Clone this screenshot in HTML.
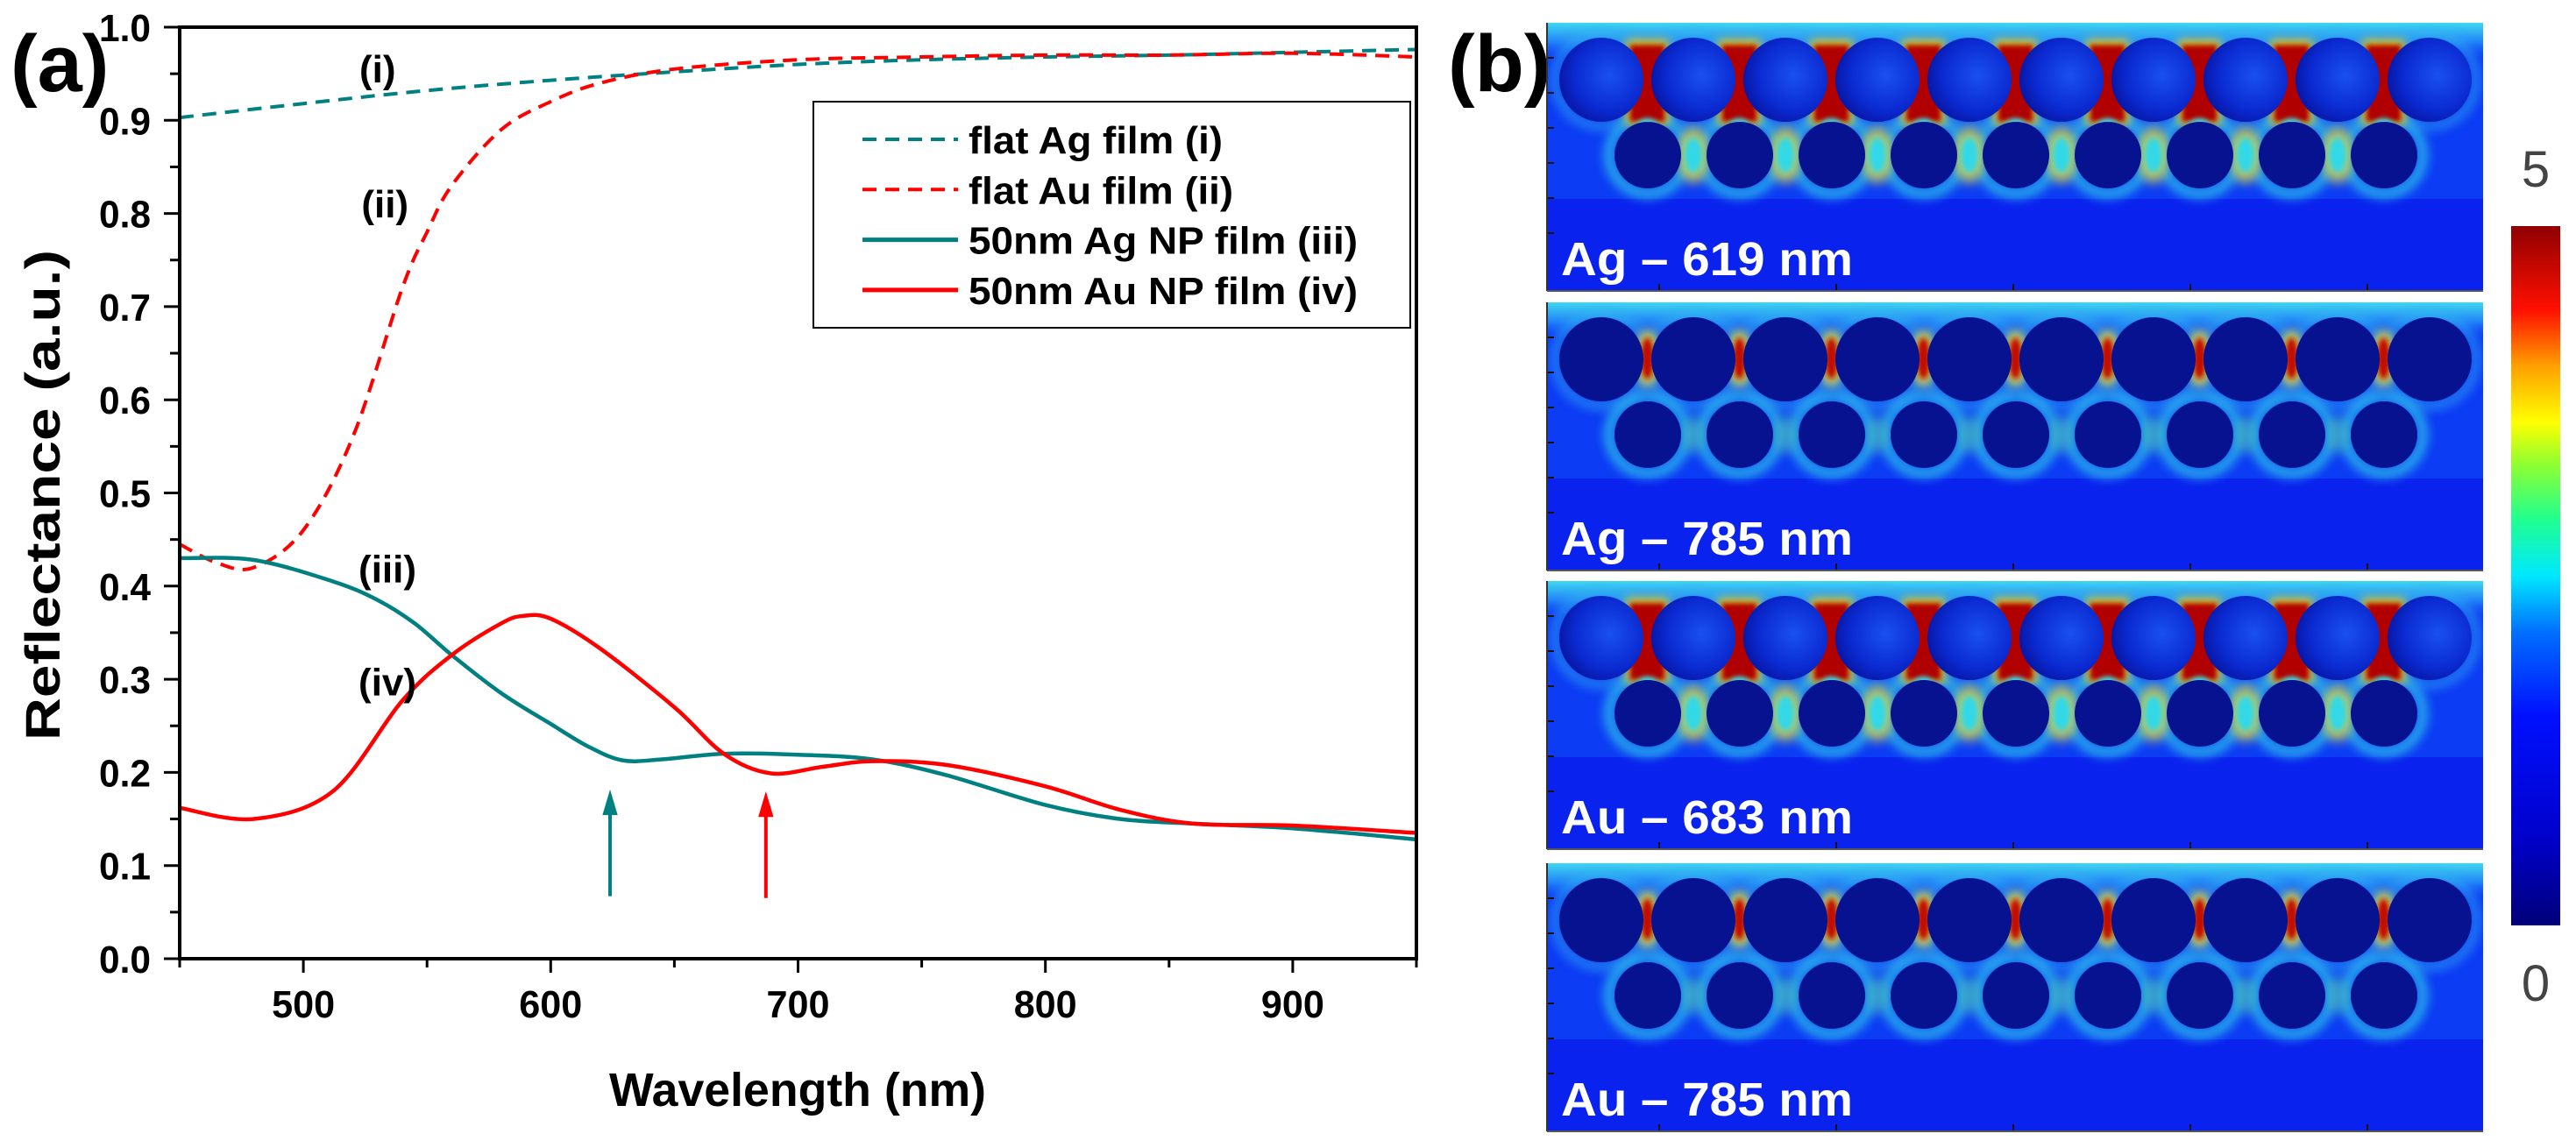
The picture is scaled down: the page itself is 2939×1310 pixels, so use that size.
<!DOCTYPE html>
<html><head><meta charset="utf-8"><style>
html,body{margin:0;padding:0;background:#fff;}
svg{display:block;}
text{font-family:"Liberation Sans Narrow","Liberation Sans",sans-serif;font-weight:bold;}
</style></head><body>
<svg id="fig" width="2939" height="1310" viewBox="0 0 2939 1310" xmlns="http://www.w3.org/2000/svg">
<defs>
  <filter id="b3" x="-50%" y="-50%" width="200%" height="200%"><feGaussianBlur stdDeviation="3"/></filter>
  <filter id="b6" x="-50%" y="-50%" width="200%" height="200%"><feGaussianBlur stdDeviation="6"/></filter>
  <filter id="b10" x="-50%" y="-50%" width="200%" height="200%"><feGaussianBlur stdDeviation="10"/></filter>
  <linearGradient id="cbar" x1="0" y1="1" x2="0" y2="0">
    <stop offset="0" stop-color="#00007a"/>
    <stop offset="0.12" stop-color="#0000c8"/>
    <stop offset="0.3" stop-color="#0010ff"/>
    <stop offset="0.42" stop-color="#0070ff"/>
    <stop offset="0.5" stop-color="#00e8ff"/>
    <stop offset="0.58" stop-color="#20ff90"/>
    <stop offset="0.66" stop-color="#90ff30"/>
    <stop offset="0.72" stop-color="#ffff00"/>
    <stop offset="0.8" stop-color="#ffa000"/>
    <stop offset="0.88" stop-color="#ff1000"/>
    <stop offset="1" stop-color="#900000"/>
  </linearGradient>
  <linearGradient id="topglow" x1="0" y1="0" x2="0" y2="1">
    <stop offset="0" stop-color="#40d8f0"/>
    <stop offset="0.5" stop-color="#2080f8"/>
    <stop offset="1" stop-color="#1040f0" stop-opacity="0"/>
  </linearGradient>
  <radialGradient id="topcirc" cx="0.6" cy="0.45" r="0.6">
    <stop offset="0" stop-color="#1a50f0"/>
    <stop offset="0.7" stop-color="#0a2ad0"/>
    <stop offset="1" stop-color="#0818a8"/>
  </radialGradient>
</defs>
<g id="chart"></g>
<g id="maps"></g>
</svg>
<script>
// ---------- chart data ----------
const agFlatX = [450,500,550,600,650,700,750,800,850,900,950];
const agFlatY = [0.903,0.918,0.932,0.943,0.952,0.960,0.965,0.968,0.970,0.973,0.976];
const auFlatX = [450,465,480,500,520,540,550,560,580,600,620,650,700,750,800,850,900,950];
const auFlatY = [0.445,0.425,0.420,0.460,0.560,0.720,0.780,0.830,0.890,0.920,0.940,0.955,0.965,0.968,0.970,0.970,0.972,0.968];
const agNpX = [450,480,512,530,545,560,580,600,615,629,645,670,700,730,760,800,830,860,900,950];
const agNpY = [0.430,0.428,0.405,0.385,0.360,0.326,0.285,0.252,0.228,0.213,0.214,0.220,0.219,0.214,0.197,0.165,0.150,0.145,0.140,0.128];
const auNpX = [450,480,512,540,560,580,589,600,620,650,670,689,710,730,760,800,830,860,900,950];
const auNpY = [0.162,0.150,0.180,0.277,0.326,0.360,0.368,0.365,0.333,0.270,0.220,0.199,0.206,0.212,0.208,0.185,0.160,0.145,0.143,0.135];
const xTicks = [500,600,700,800,900];
const xMinor = [450,550,650,750,850,950];
const yTicks = [0.0,0.1,0.2,0.3,0.4,0.5,0.6,0.7,0.8,0.9,1.0];
const yTickLabels = ["0.0","0.1","0.2","0.3","0.4","0.5","0.6","0.7","0.8","0.9","1.0"];
const arrowX = [624,687];
const arrowTip = [0.18,0.178];
const legendLabels = ["flat Ag film (i)","flat Au film (ii)","50nm Ag NP film (iii)","50nm Au NP film (iv)"];
const curveTagText = ["(i)","(ii)","(iii)","(iv)"];
const curveTagX = [530,533,534,534];
const curveTagY = [0.955,0.81,0.418,0.297];
// ---------- maps data ----------
const mapLabels = ["Ag \u2013 619 nm","Ag \u2013 785 nm","Au \u2013 683 nm","Au \u2013 785 nm"];
const mapStrong = [1,0,1,0];
const cbarLabels = ["5","0"];

const NS="http://www.w3.org/2000/svg";
function mk(tag,attrs,parent){const e=document.createElementNS(NS,tag);for(const k in attrs)e.setAttribute(k,attrs[k]);parent.appendChild(e);return e;}
const X0=205,X1=1616,Y0=1094,Y1=31;
const xs=l=>X0+(l-450)*(X1-X0)/500;
const ys=v=>Y0-v*(Y0-Y1);
const chart=document.getElementById('chart');

function smoothPath(px,py){
  const p=px.map((x,i)=>[xs(x),ys(py[i])]);
  let d="M"+p[0][0].toFixed(1)+","+p[0][1].toFixed(1);
  for(let i=0;i<p.length-1;i++){
    const a=p[Math.max(0,i-1)],b=p[i],c=p[i+1],e=p[Math.min(p.length-1,i+2)];
    const c1=[b[0]+(c[0]-a[0])/6,b[1]+(c[1]-a[1])/6],c2=[c[0]-(e[0]-b[0])/6,c[1]-(e[1]-b[1])/6];
    d+=" C"+c1.map(v=>v.toFixed(1))+" "+c2.map(v=>v.toFixed(1))+" "+c[0].toFixed(1)+","+c[1].toFixed(1);
  }
  return d;
}
mk('clipPath',{id:'plotclip'},chart);
mk('rect',{x:X0,y:Y1,width:X1-X0,height:Y0-Y1},chart.lastChild);

const curveDefs=[[agFlatX,agFlatY,'#008080','16 10','flat-ag-curve'],[auFlatX,auFlatY,'#ff0000','16 10','flat-au-curve'],[agNpX,agNpY,'#008080','','ag-np-curve'],[auNpX,auNpY,'#ff0000','','au-np-curve']];
curveDefs.forEach(c=>{
  const p=mk('path',{d:smoothPath(c[0],c[1]),fill:'none',stroke:c[2],'stroke-width':c[3]?4:4.5,'clip-path':'url(#plotclip)'},chart);
  if(c[3])p.setAttribute('stroke-dasharray',c[3]);
  
  
});

const box=mk('path',{d:`M${X0},${Y1} H${X1} V${Y0} H${X0} Z`,fill:'none',stroke:'#000','stroke-width':4},chart);



yTicks.forEach((v,i)=>{
  mk('line',{x1:X0-18,x2:X0,y1:ys(v),y2:ys(v),stroke:'#000','stroke-width':3},chart);
  if(i<yTicks.length-1)mk('line',{x1:X0-11,x2:X0,y1:ys(v+0.05),y2:ys(v+0.05),stroke:'#000','stroke-width':3},chart);
  const t=mk('text',{x:172,y:ys(v)+16,'text-anchor':'end','font-size':44,textLength:59,lengthAdjust:'spacingAndGlyphs'},chart);
  t.textContent=yTickLabels[i];
  
  
});
xTicks.forEach(l=>{
  mk('line',{x1:xs(l),x2:xs(l),y1:Y0,y2:Y0+16,stroke:'#000','stroke-width':3},chart);
  const t=mk('text',{x:xs(l),y:Y0+67,'text-anchor':'middle','font-size':44,textLength:72,lengthAdjust:'spacingAndGlyphs'},chart);
  t.textContent=String(l);
  
  
});
xMinor.forEach(l=>{mk('line',{x1:xs(l),x2:xs(l),y1:Y0,y2:Y0+10,stroke:'#000','stroke-width':3},chart);});

let t=mk('text',{x:910,y:1262,'text-anchor':'middle','font-size':54,textLength:430,lengthAdjust:'spacingAndGlyphs',style:'font-family:"Liberation Sans",sans-serif'},chart);
t.textContent="Wavelength (nm)";


t=mk('text',{x:0,y:0,'text-anchor':'middle','font-size':56,textLength:560,lengthAdjust:'spacingAndGlyphs',transform:'translate(68,565) rotate(-90)',style:'font-family:"Liberation Sans",sans-serif'},chart);
t.textContent="Reflectance (a.u.)";


t=mk('text',{x:12,y:104,'font-size':92,style:'font-family:"Liberation Sans",sans-serif'},chart);
t.textContent="(a)";



curveTagText.forEach((s,i)=>{
  const e=mk('text',{x:xs(curveTagX[i]),y:ys(curveTagY[i])+15,'text-anchor':'middle','font-size':44},chart);
  e.textContent=s;
  
  
});

const arrowCol=['#008080','#ff0000'];
arrowX.forEach((l,i)=>{
  const x=xs(l),tip=ys(arrowTip[i]);
  const g=mk('g',{},chart);
  
  
  mk('line',{x1:x,x2:x,y1:tip+120,y2:tip+20,stroke:arrowCol[i],'stroke-width':4},g);
  mk('path',{d:`M${x-8},${tip+27} L${x},${tip} L${x+8},${tip+27} Z`,fill:arrowCol[i],stroke:arrowCol[i],'stroke-width':1},g);
});

const lg=mk('g',{},chart);


mk('rect',{x:928,y:116,width:681,height:258,fill:'#fff',stroke:'#000','stroke-width':2},lg);
const legCol=['#008080','#ff0000','#008080','#ff0000'];
const legW=[290,302,444,444];
legendLabels.forEach((s,i)=>{
  const y=159+i*57.3;
  const ln=mk('line',{x1:984,x2:1093,y1:y,y2:y,stroke:legCol[i],'stroke-width':i<2?4:5},lg);
  if(i<2)ln.setAttribute('stroke-dasharray','16 10');
  const e=mk('text',{x:1105,y:y+16,'font-size':44,textLength:legW[i],lengthAdjust:'spacingAndGlyphs'},lg);
  e.textContent=s;
  
  
});

// ---------- field maps ----------
const maps=document.getElementById('maps');
const PX=1765,PW=1068,PH=306,PTOP=[26,345,663,985];
t=mk('text',{x:1652,y:104,'font-size':92,style:'font-family:"Liberation Sans",sans-serif'},maps);
t.textContent="(b)";


mapLabels.forEach((lab,k)=>{
  const g=mk('g',{transform:`translate(${PX},${PTOP[k]})`},maps);
  
  
  const cp=mk('clipPath',{id:'pc'+k},g);
  mk('rect',{x:0,y:0,width:PW,height:PH},cp);
  const inner=mk('g',{'clip-path':`url(#pc${k})`},g);
  mk('rect',{x:0,y:0,width:PW,height:PH,fill:'#0a22ee'},inner);
  mk('rect',{x:0,y:0,width:PW,height:201,fill:'#0c3cf4'},inner);
  mk('rect',{x:0,y:0,width:PW,height:45,fill:'url(#topglow)'},inner);
  const strong=mapStrong[k];
  const topC=[],botC=[];
  for(let i=0;i<10;i++)topC.push(62+105*i);
  for(let i=0;i<9;i++)botC.push(115+105*i);
  botC.forEach(cx=>{mk('circle',{cx:cx,cy:151,r:44,fill:'none',stroke:'#30d8e8','stroke-width':10,filter:'url(#b6)',opacity:0.85},inner);});
  topC.forEach(cx=>{mk('circle',{cx:cx,cy:65,r:53,fill:'none',stroke:'#30b8f0','stroke-width':8,filter:'url(#b6)',opacity:0.7},inner);});
  for(let i=0;i<9;i++){
    const gx=topC[i]+52.5;
    if(strong){
      mk('rect',{x:gx-24,y:20,width:48,height:96,fill:'#ffe000',filter:'url(#b6)'},inner);
      mk('rect',{x:gx-20,y:25,width:40,height:88,fill:'#b00000',filter:'url(#b3)'},inner);
      mk('ellipse',{cx:gx,cy:118,rx:12,ry:9,fill:'#30d8e8',filter:'url(#b3)'},inner);
    }else{
      mk('ellipse',{cx:gx,cy:64,rx:14,ry:32,fill:'#e0e040',filter:'url(#b6)'},inner);
      mk('ellipse',{cx:gx,cy:64,rx:8,ry:24,fill:'#c01000',filter:'url(#b3)'},inner);
    }
  }
  for(let i=1;i<9;i++){
    const gx=topC[i];
    if(strong){
      mk('ellipse',{cx:gx,cy:151,rx:18,ry:32,fill:'#e0e040',filter:'url(#b6)',opacity:0.8},inner);
      mk('ellipse',{cx:gx,cy:151,rx:10,ry:20,fill:'#30d8e8',filter:'url(#b3)'},inner);
    }else{
      mk('ellipse',{cx:gx,cy:151,rx:14,ry:22,fill:'#60d8a0',filter:'url(#b6)',opacity:0.4},inner);
    }
  }
  topC.forEach(cx=>{
    const c=mk('circle',{cx:cx,cy:65,r:48,fill:strong?'url(#topcirc)':'#06128f'},inner);
    
    
  });
  botC.forEach(cx=>{
    const c=mk('circle',{cx:cx,cy:151,r:38,fill:'#06128f'},inner);
    
    
  });
  for(let j=1;j<7;j++)mk('line',{x1:0,x2:8,y1:j*40,y2:j*40,stroke:'#111','stroke-width':2},g);
  for(let j=1;j<6;j++)mk('line',{x1:j*202-74,x2:j*202-74,y1:PH,y2:PH-8,stroke:'#111','stroke-width':2},g);
  mk('line',{x1:0,x2:0,y1:0,y2:PH,stroke:'#333','stroke-width':2},g);
  mk('line',{x1:0,x2:PW,y1:PH,y2:PH,stroke:'#555','stroke-width':2},g);
  const tl=mk('text',{x:16,y:288,'font-size':54,fill:'#fff',textLength:333,lengthAdjust:'spacingAndGlyphs',style:'font-family:"Liberation Sans",sans-serif'},g);
  tl.textContent=lab;
  
  
});
const cb=mk('rect',{x:2865,y:258,width:56,height:798,fill:'url(#cbar)'},maps);


[[192,0],[1121,1]].forEach(([y,i])=>{
  const e=mk('text',{x:2893,y:y+21,'text-anchor':'middle','font-size':58,fill:'#444',style:'font-weight:normal'},maps);
  e.textContent=cbarLabels[i];
  
  
});
</script>
</body></html>
